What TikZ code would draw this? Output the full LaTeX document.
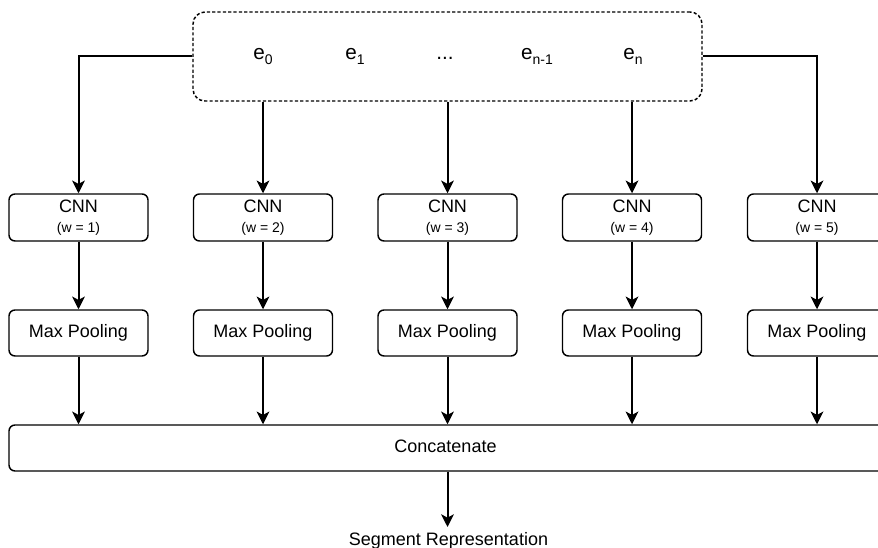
\documentclass[tikz,border=0pt]{standalone}
\usepackage{fontspec}
\setmainfont{Liberation Sans}
\usetikzlibrary{arrows.meta}
\newcommand{\esub}[2]{#1\raisebox{-3.75pt}{\fontsize{10.5}{12}\selectfont #2}}
\tikzset{
  box/.style={draw, line width=1.1pt, rounded corners=4.5pt, minimum width=104.25pt, inner sep=0pt},
  cnnbox/.style={box, minimum height=35.25pt, align=center, font=\fontsize{13.5}{15}\selectfont},
  poolbox/.style={box, minimum height=34.5pt, font=\fontsize{13.5}{15}\selectfont},
  arr/.style={-{Stealth[length=9.5pt,width=9.5pt,inset=2.5pt]}, line width=1.5pt},
  elabel/.style={font=\fontsize{15.5}{18}\selectfont, inner sep=0pt, anchor=base},
  plain/.style={font=\fontsize{13.5}{15}\selectfont, inner sep=0pt},
}
\begin{document}
\begin{tikzpicture}[x=0.75pt,y=-0.75pt]
\clip (0,0) rectangle (878,548);
\fill[white] (0,0) rectangle (878,548);
% top embedding box
\node[draw, line width=1.1pt, dash pattern=on 2.4pt off 1.6pt, rounded corners=9pt,
      minimum width=381.75pt, minimum height=66.75pt, inner sep=0pt] (top) at (447.5,56.5) {};
\node[elabel] (e0) at (263,60) {\esub{e}{0}};
\node[elabel] (e1) at (355,60) {\esub{e}{1}};
\node[elabel] (edots) at (445,60) {...};
\node[elabel] (enm1) at (537,60) {\esub{e}{n-1}};
\node[elabel] (en) at (633,60) {\esub{e}{n}};
% CNN boxes
\node[cnnbox] (c1) at (78.5,217.5) {CNN\\{\fontsize{10.5}{15}\selectfont (w = 1)}};
\node[cnnbox] (c2) at (263,217.5) {CNN\\{\fontsize{10.5}{15}\selectfont (w = 2)}};
\node[cnnbox] (c3) at (447.5,217.5) {CNN\\{\fontsize{10.5}{15}\selectfont (w = 3)}};
\node[cnnbox] (c4) at (632,217.5) {CNN\\{\fontsize{10.5}{15}\selectfont (w = 4)}};
\node[cnnbox] (c5) at (817,217.5) {CNN\\{\fontsize{10.5}{15}\selectfont (w = 5)}};
% Max pooling boxes
\node[poolbox] (p1) at (78.5,333) {Max Pooling};
\node[poolbox] (p2) at (263,333) {Max Pooling};
\node[poolbox] (p3) at (447.5,333) {Max Pooling};
\node[poolbox] (p4) at (632,333) {Max Pooling};
\node[poolbox] (p5) at (817,333) {Max Pooling};
% Concatenate
\node[draw, line width=1.1pt, rounded corners=4.5pt, minimum width=658.5pt, minimum height=34.5pt,
      inner sep=0pt] (cat) at (448,448) {};
\node[plain] (cattext) at (445.5,446) {Concatenate};
\coordinate (outend) at (447.5,527);
\node[plain] (seg) at (448.5,541) {Segment Representation};
% connectors
\draw[arr] (top.west) -| (c1.north);
\draw[arr] (top.east) -| (c5.north);
\draw[arr] (c2.north |- top.south) -- (c2.north);
\draw[arr] (c3.north |- top.south) -- (c3.north);
\draw[arr] (c4.north |- top.south) -- (c4.north);
\foreach \i in {1,...,5}{
  \draw[arr] (c\i.south) -- (p\i.north);
  \draw[arr] (p\i.south) -- (p\i.south |- cat.north);
}
\draw[arr] (c3.south |- cat.south) -- (outend);
\end{tikzpicture}
\end{document}
